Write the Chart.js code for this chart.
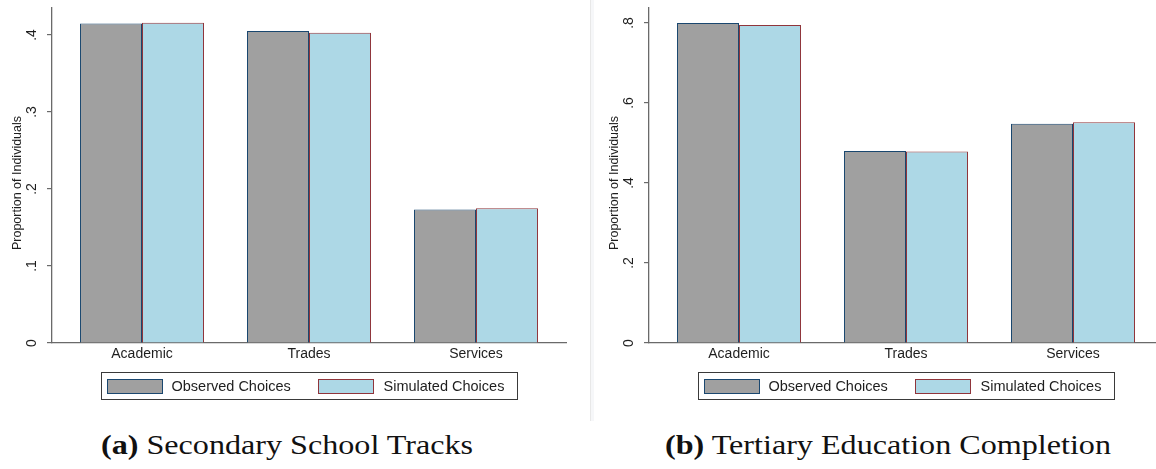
<!DOCTYPE html>
<html>
<head>
<meta charset="utf-8">
<script src="https://cdn.jsdelivr.net/npm/chart.js@4.4.1/dist/chart.umd.min.js"></script>
<style>
  html, body { margin: 0; padding: 0; background: #fff; }
  body { width: 1156px; height: 469px; position: relative; overflow: hidden; }
  .panel { position: absolute; top: 0; height: 420px; }
  #panelA { left: 0; width: 591px; }
  #panelB { left: 591px; width: 565px; }
  .divider { position: absolute; left: 590px; top: 0; width: 1px; height: 421px; background: #e8e8e8; }
  .divider2 { position: absolute; left: 591px; top: 0; width: 3px; height: 421px; background: #f6f7f9; }
  .caption {
    position: absolute; top: 425px; height: 40px; line-height: 40px;
    font-family: "Liberation Serif", "DejaVu Serif", serif; font-size: 27px; color: #111;
    white-space: nowrap; transform: translateX(-50%) scaleX(1.19);
  }
  .caption b { font-weight: bold; }
</style>
</head>
<body>
<div class="divider"></div>
<div class="divider2"></div>
<div class="panel" id="panelA"><canvas id="chartA" width="591" height="420"></canvas></div>
<div class="panel" id="panelB"><canvas id="chartB" width="565" height="420"></canvas></div>
<div class="caption" id="capA" style="left:287px"></div>
<div class="caption" id="capB" style="left:888px"></div>

<script>
// Categories and series
const categories = ['Academic', 'Trades', 'Services'];
const seriesNames = ['Observed Choices', 'Simulated Choices'];

// (a) Secondary school tracks: share of individuals per track
const secondaryObserved = [0.415, 0.405, 0.1735];
const secondarySimulated = [0.416, 0.403, 0.175];

// (b) Tertiary education completion by track
const tertiaryObserved = [0.800, 0.480, 0.548];
const tertiarySimulated = [0.795, 0.479, 0.552];

// Y-axis ticks (values and their printed labels)
const secondaryTickValues = [0, 0.1, 0.2, 0.3, 0.4];
const secondaryTickLabels = ['0', '.1', '.2', '.3', '.4'];
const tertiaryTickValues = [0, 0.2, 0.4, 0.6, 0.8];
const tertiaryTickLabels = ['0', '.2', '.4', '.6', '.8'];

const yAxisTitle = 'Proportion of Individuals';
const captionTags = ['(a)', '(b)'];
const captionTexts = ['Secondary School Tracks', 'Tertiary Education Completion'];

const colors = {
  observedFill: '#a0a0a0', observedLine: '#1a476f',
  simulatedFill: '#add8e6', simulatedLine: '#90353b',
  axis: '#6a6a6a', text: '#1e1e1e'
};
const FONT = '"Liberation Sans", Arial, Helvetica, sans-serif';

// Draws rotated y tick labels, the y title and the boxed legend
const stataDecor = {
  id: 'stataDecor',
  afterDraw(chart) {
    const ctx = chart.ctx;
    const ys = chart.scales.y, xs = chart.scales.x;
    const area = chart.chartArea;
    ctx.save();
    ctx.fillStyle = colors.text;
    ctx.textAlign = 'center';
    ctx.textBaseline = 'middle';
    // tick labels, reading bottom to top
    ctx.font = '14px ' + FONT;
    ys.ticks.forEach(t => {
      const y = ys.getPixelForValue(t.value);
      ctx.save();
      ctx.translate(area.left - 19.5, y);
      ctx.rotate(-Math.PI / 2);
      ctx.fillText(t.label, 0, 0);
      ctx.restore();
    });
    // axis title
    ctx.font = '12.5px ' + FONT;
    ctx.save();
    ctx.translate(area.left - 34, (area.top + area.bottom) / 2 + 7.5);
    ctx.rotate(-Math.PI / 2);
    ctx.fillText(yAxisTitle, 0, 0);
    ctx.restore();

    // legend box centred under the middle category
    const cx = Math.round(xs.getPixelForValue(1));
    const bx = cx - 208 + 0.5, by = area.bottom + 29 + 0.5, bw = 416, bh = 27;
    ctx.fillStyle = '#fff';
    ctx.fillRect(bx, by, bw, bh);
    ctx.strokeStyle = '#3a3a3a';
    ctx.lineWidth = 1;
    ctx.strokeRect(bx, by, bw, bh);
    ctx.font = '14.5px ' + FONT;
    ctx.textAlign = 'left';
    const offs = [[6, 70], [217, 282]];
    chart.data.datasets.forEach((ds, i) => {
      const sx = bx + offs[i][0], sy = by + 7;
      ctx.fillStyle = ds.backgroundColor;
      ctx.fillRect(sx, sy, 55, 14);
      ctx.strokeStyle = ds.borderColor;
      ctx.lineWidth = 1;
      ctx.strokeRect(sx, sy, 55, 14);
      ctx.fillStyle = colors.text;
      ctx.fillText(ds.label, bx + offs[i][1], by + bh / 2 + 0.5);
    });
    ctx.restore();
  }
};

function makeChart(id, observed, simulated, tickValues, tickLabels, yMax, xMax, axisX, padRight) {
  const canvas = document.getElementById(id);
  const H = canvas.height;
  return new Chart(canvas, {
    type: 'bar',
    data: {
      datasets: [
        {
          label: seriesNames[0],
          data: observed.map((v, i) => ({ x: i, y: v })),
          backgroundColor: colors.observedFill,
          borderColor: colors.observedLine,
          borderWidth: 1
        },
        {
          label: seriesNames[1],
          data: simulated.map((v, i) => ({ x: i, y: v })),
          backgroundColor: colors.simulatedFill,
          borderColor: colors.simulatedLine,
          borderWidth: 1
        }
      ]
    },
    options: {
      responsive: false,
      animation: false,
      events: [],
      barPercentage: 1,
      categoryPercentage: 0.7425,
      layout: { padding: { top: 8, right: padRight, left: 0, bottom: 0 } },
      plugins: { legend: { display: false }, tooltip: { enabled: false } },
      scales: {
        x: {
          type: 'linear',
          offset: false,
          min: -0.539,
          max: xMax,
          afterBuildTicks: s => { s.ticks = categories.map((c, i) => ({ value: i })); },
          afterFit: s => { s.height = H - 343; },
          grid: { display: false, offset: false, drawTicks: false },
          border: { display: true, color: colors.axis, width: 1.3 },
          ticks: {
            callback: v => categories[v] ?? '',
            font: { family: FONT, size: 14 },
            color: colors.text,
            padding: 3,
            maxRotation: 0
          }
        },
        y: {
          min: 0,
          max: yMax,
          afterBuildTicks: s => { s.ticks = tickValues.map(v => ({ value: v })); },
          afterFit: s => { s.width = axisX; },
          grid: { drawOnChartArea: false, drawTicks: true, tickLength: 5, color: colors.axis, lineWidth: 1.2 },
          border: { display: true, color: colors.axis, width: 1.3 },
          ticks: {
            display: false,
            callback: (v, i) => tickLabels[i]
          }
        }
      }
    },
    plugins: [stataDecor]
  });
}

makeChart('chartA', secondaryObserved, secondarySimulated,
  secondaryTickValues, secondaryTickLabels, 0.435, 2.539, 52, 25);
makeChart('chartB', tertiaryObserved, tertiarySimulated,
  tertiaryTickValues, tertiaryTickLabels, 0.8375, 2.497, 58, 0);

document.getElementById('capA').innerHTML = '<b>' + captionTags[0] + '</b> ' + captionTexts[0];
document.getElementById('capB').innerHTML = '<b>' + captionTags[1] + '</b> ' + captionTexts[1];
</script>
</body>
</html>
